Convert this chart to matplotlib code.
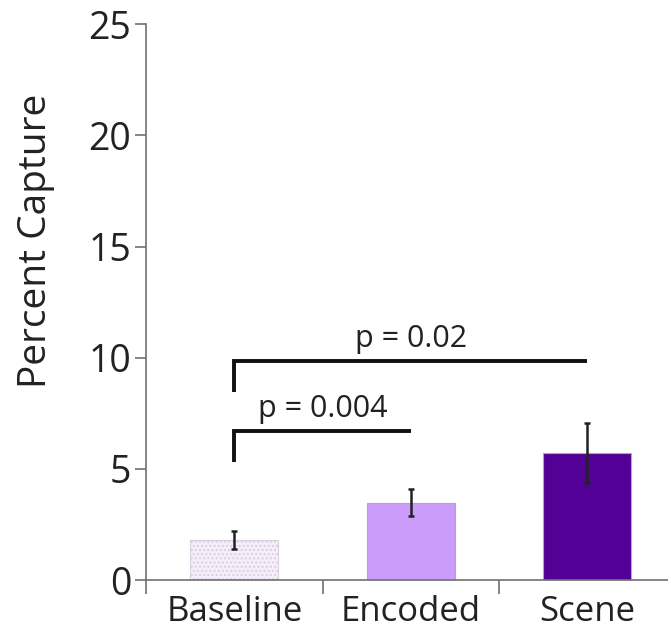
import matplotlib.pyplot as plt
import numpy as np

plt.rcParams["font.family"] = ["Open Sans", "DejaVu Sans"]

categories = ["Baseline", "Encoded", "Scene"]
means = [1.8, 3.48, 5.7]
errors = [0.42, 0.6, 1.35]
bar_colors = ["#f6eefb", "#cc9cfb", "#520096"]

# significance brackets: (left bar, right bar, line height, left drop, label)
brackets = [
    (0, 1, 6.7, 5.3, "p = 0.004"),
    (0, 2, 9.85, 8.45, "p = 0.02"),
]

fig = plt.figure(figsize=(6.68, 6.36), dpi=100)
ax = fig.add_axes([0.219, 0.088, 0.781, 0.874])

x = np.arange(len(categories))
bars = ax.bar(x, means, width=0.5, color=bar_colors, edgecolor="#b0a8b8", linewidth=0.8)
bars[0].set_hatch("....")
bars[0].set_edgecolor("#d8d0dc")
ax.errorbar(x, means, yerr=errors, fmt="none", ecolor="#222222", elinewidth=1.8,
            capsize=2, capthick=1.8)

for left, right, top, drop, label in brackets:
    ax.plot([x[left], x[left], x[right]], [drop, top, top], color="#111111",
            linewidth=2.8, solid_capstyle="butt", solid_joinstyle="miter")
    ax.text((x[left] + x[right]) / 2, top + 0.3, label, ha="center", va="bottom",
            fontsize=22, color="#222222")

ax.set_xlim(-0.5, 2.46)
ax.set_ylim(0, 25)
ax.set_yticks([0, 5, 10, 15, 20, 25])
ax.set_xticks(x)
ax.set_xticklabels(categories)
ax.set_xticks([-0.5, 0.5, 1.5], minor=True)
ax.tick_params(axis="x", which="major", length=0, pad=11, labelsize=25, labelcolor="#222222")
ax.tick_params(axis="x", which="minor", length=10, width=1.2, color="#707070")
ax.tick_params(axis="y", length=8, width=1.2, color="#707070", labelsize=27,
               labelcolor="#222222", pad=3)
ax.set_ylabel("Percent Capture", fontsize=28, color="#222222")
ax.yaxis.set_label_coords(-0.175, 0.61)

for side in ["top", "right"]:
    ax.spines[side].set_visible(False)
for side in ["left", "bottom"]:
    ax.spines[side].set_color("#707070")
    ax.spines[side].set_linewidth(1.2)

fig.savefig("out.png", dpi=100)
